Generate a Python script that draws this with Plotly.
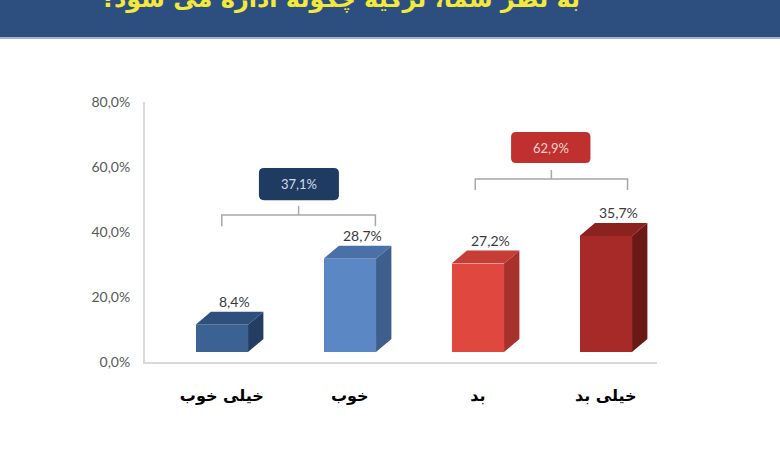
import plotly.graph_objects as go

# --- DATA ---
CATEGORIES = ["خیلی خوب", "خوب", "بد", "خیلی بد"]
VALUES = [8.4, 28.7, 27.2, 35.7]
GROUP_GOOD = [0, 1]   # indices summed in the blue bracket
GROUP_BAD = [2, 3]    # indices summed in the red bracket
Y_TICKS = [0, 20, 40, 60, 80]
TITLE = "به نظر شما، ترکیه چگونه اداره می شود؟"

# face colours: front, top, side
COLORS = [
    ("#3C6193", "#2F4F7D", "#243E63"),
    ("#5B87C5", "#4A70A8", "#3E5E8E"),
    ("#E0483F", "#C73C35", "#A8312B"),
    ("#A82A28", "#8C2220", "#6B1917"),
]

W = 0.41      # bar width (category units)
DX = 0.12     # 3D depth, x
DY = 4.0      # 3D depth, y (value units)


def pct(v):
    return f"{v:.1f}".replace(".", ",") + "%"


def rounded_box(x0, x1, y0, y1, rx=0.04, ry=1.5):
    return (f"M {x0+rx},{y0} L {x1-rx},{y0} Q {x1},{y0} {x1},{y0+ry} "
            f"L {x1},{y1-ry} Q {x1},{y1} {x1-rx},{y1} L {x0+rx},{y1} "
            f"Q {x0},{y1} {x0},{y1-ry} L {x0},{y0+ry} Q {x0},{y0} {x0+rx},{y0} Z")


def bracket(x0, x1, y_top, y_end, y_tick):
    xm = (x0 + x1) / 2
    return (f"M {x0},{y_end} L {x0},{y_top} L {x1},{y_top} L {x1},{y_end} "
            f"M {xm},{y_top} L {xm},{y_tick}")


fig = go.Figure()

xs = list(range(len(VALUES)))

# front faces
fig.add_trace(go.Bar(
    x=xs, y=VALUES, width=W, yaxis="y2",
    marker=dict(color=[c[0] for c in COLORS], line=dict(width=0)),
    hoverinfo="skip", showlegend=False,
))

# top and side faces
for i, v in enumerate(VALUES):
    l, r = i - W / 2, i + W / 2
    fig.add_trace(go.Scatter(
        x=[l, r, r + DX, l + DX, l], y=[v, v, v + DY, v + DY, v],
        mode="lines", fill="toself", fillcolor=COLORS[i][1],
        line=dict(width=0), yaxis="y2", hoverinfo="skip", showlegend=False,
    ))
    fig.add_trace(go.Scatter(
        x=[r, r + DX, r + DX, r, r], y=[0, DY, v + DY, v, 0],
        mode="lines", fill="toself", fillcolor=COLORS[i][2],
        line=dict(width=0), yaxis="y2", hoverinfo="skip", showlegend=False,
    ))
    fig.add_annotation(
        x=i + 0.1, y=v + DY, yref="y2", yanchor="bottom", yshift=0,
        text=pct(v), showarrow=False,
        font=dict(family="Lato", size=14, color="#3A3A3A"),
    )

shapes = []
# header band
shapes.append(dict(type="rect", xref="paper", yref="paper",
                   x0=-0.3, x1=1.3, y0=1.25, y1=1.45,
                   fillcolor="#2C4F7F", line=dict(width=0), layer="below"))
shapes.append(dict(type="rect", xref="paper", yref="paper",
                   x0=-0.3, x1=1.3, y0=1.242, y1=1.25,
                   fillcolor="#A3B5CD", line=dict(width=0), layer="below"))

# brackets and total boxes
groups = [
    (GROUP_GOOD, 0.0, 1.2, 45.2, 41.8, 48.0, (0.29, 0.915, 49.8, 59.7), "#1F3B61", "#D4DCEA"),
    (GROUP_BAD, 1.98, 3.17, 56.3, 52.9, 59.1, (2.26, 2.88, 61.2, 70.8), "#C0302E", "#F7D3D2"),
]
for idx, bx0, bx1, yt, ye, ytk, box, fill, tcol in groups:
    shapes.append(dict(type="path", xref="x", yref="y",
                       path=bracket(bx0, bx1, yt, ye, ytk),
                       line=dict(color="#A8A8A8", width=1.5)))
    shapes.append(dict(type="path", xref="x", yref="y",
                       path=rounded_box(*box), fillcolor=fill, line=dict(width=0)))
    total = sum(VALUES[k] for k in idx)
    fig.add_annotation(x=(box[0] + box[1]) / 2, y=(box[2] + box[3]) / 2,
                       xref="x", yref="y", text=pct(total), showarrow=False,
                       font=dict(family="Lato", size=13, color=tcol))

# title sits mostly above the page edge, as in the reference crop
fig.add_annotation(
    x=0.381, y=1.333, xref="paper", yref="paper", yanchor="bottom",
    text=f"<b>{TITLE}</b>", showarrow=False,
    font=dict(family="DejaVu Sans", size=24, color="#F2E93C"),
)

fig.update_layout(
    width=780, height=470,
    margin=dict(l=145, r=123, t=102, b=108),
    paper_bgcolor="white", plot_bgcolor="white",
    shapes=shapes, bargap=0,
    xaxis=dict(range=[-0.6, 3.4], tickvals=xs, ticktext=CATEGORIES,
               showline=True, linecolor="#D9D9D9", linewidth=2,
               showgrid=False, zeroline=False, ticks="", ticklabelstandoff=18,
               tickfont=dict(family="DejaVu Sans", size=16, color="black", weight="bold")),
    yaxis=dict(range=[0, 80], tickvals=Y_TICKS, ticktext=[pct(t) for t in Y_TICKS],
               showline=True, linecolor="#D9D9D9", linewidth=2,
               showgrid=False, zeroline=False, ticks="", ticklabelstandoff=10,
               tickfont=dict(family="Lato", size=14, color="#595959")),
    yaxis2=dict(range=[-3.08, 76.92], overlaying="y", visible=False),
)

# drop the default page margin so the figure fills the window
fig.write_html("out.html", config={"displayModeBar": False},
               post_script="document.body.style.margin='0';")
